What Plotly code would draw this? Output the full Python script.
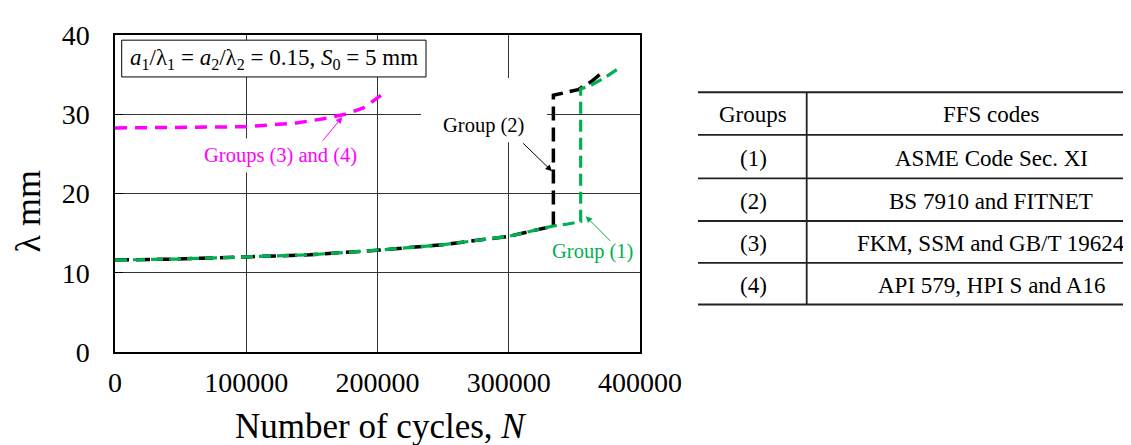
import plotly.graph_objects as go

# ---------------- data ----------------
n_group1 = [0, 47000, 100000, 148600, 200000, 250100, 300000, 326300, 334000, 345000, 354800,
            354800, 363000, 373000, 384800]
lam_group1 = [11.6, 11.73, 12.0, 12.27, 12.84, 13.54, 14.6, 15.55, 15.9, 16.15, 16.45,
              33.2, 33.7, 34.6, 35.9]

n_group2 = [0, 47000, 100000, 148600, 200000, 250100, 300000, 326300, 334000,
            334000, 352800, 362700, 371500]
lam_group2 = [11.6, 11.73, 12.0, 12.27, 12.84, 13.54, 14.6, 15.55, 15.9,
              32.4, 33.1, 34.1, 35.3]

n_group34 = [0, 59700, 100000, 138400, 161300, 175200, 189200, 203200]
lam_group34 = [28.27, 28.3, 28.43, 28.9, 29.5, 30.0, 30.8, 32.45]

x_ticks = [0, 100000, 200000, 300000, 400000]
y_ticks = [0, 10, 20, 30, 40]

table_header = ["Groups", "FFS codes"]
table_groups = ["(1)", "(2)", "(3)", "(4)"]
table_codes = ["ASME Code Sec. XI", "BS 7910 and FITNET", "FKM, SSM and GB/T 19624",
               "API 579, HPI S and A16"]

# ---------------- figure ----------------
OFF = 8                      # default page body margin
W, H = 1131 - OFF, 445 - OFF
L, R, T, B = 115, 640, 27, 352  # plot area in page pixels
FONT = "'Liberation Serif', 'Times New Roman', Times, 'DejaVu Serif', serif"
BLACK = "#000000"
GREEN = "#00B050"
MAGENTA = "#FF00FF"

fig = go.Figure()

fig.add_trace(go.Scatter(x=n_group2, y=lam_group2, mode="lines",
                         line=dict(color=BLACK, width=3.5, dash="14px,7px"),
                         name="Group (2)"))
fig.add_trace(go.Scatter(x=n_group1, y=lam_group1, mode="lines",
                         line=dict(color=GREEN, width=3.2, dash="12px,6px"),
                         name="Group (1)"))
fig.add_trace(go.Scatter(x=n_group34, y=lam_group34, mode="lines",
                         line=dict(color=MAGENTA, width=3.5, dash="12px,8px"),
                         name="Groups (3) and (4)"))


def px2x(px):
    return (px - L) / (R - L) * 400000


def px2y(py):
    return (B - py) / (B - T) * 40


def px2px(px):
    return (px - L) / (R - L)


def py2py(py):
    return (B - py) / (B - T)


shapes = []
annotations = []


def txt(x, y, text, size, color, xref="x", yref="y", **kw):
    d = dict(x=x, y=y, xref=xref, yref=yref, showarrow=False, text=text,
             xanchor="center", yanchor="middle",
             font=dict(family=FONT, size=size, color=color))
    d.update(kw)
    annotations.append(d)


# white boxes hiding gridlines behind labels
shapes.append(dict(type="rect", xref="x", yref="y", layer="between",
                   x0=px2x(421), x1=px2x(547), y0=px2y(137), y1=px2y(71),
                   fillcolor="white", line=dict(width=0)))
shapes.append(dict(type="rect", xref="x", yref="y", layer="between",
                   x0=px2x(198), x1=px2x(362), y0=px2y(168), y1=px2y(133),
                   fillcolor="white", line=dict(width=0)))
# parameter box
shapes.append(dict(type="rect", xref="x", yref="y", layer="between",
                   x0=px2x(121.7), x1=px2x(426), y0=px2y(70), y1=px2y(32.3),
                   fillcolor="white", line=dict(color=BLACK, width=1)))
txt(px2x(274), px2y(51.5),
    "<i>a</i><sub>1</sub>/λ<sub>1</sub> = <i>a</i><sub>2</sub>/λ<sub>2</sub>"
    " = 0.15, <i>S</i><sub>0</sub> = 5 mm", 23, BLACK)

# curve labels
txt(px2x(280), px2y(151), "Groups (3) and (4)", 20.5, MAGENTA)
txt(px2x(483), px2y(120), "Group (2)", 20.5, BLACK)
txt(px2x(592), px2y(249), "Group (1)", 20.5, GREEN)

# arrows
for head, tail, col in [((342.3, 111), (321.7, 136), MAGENTA),
                        ((552, 166.7), (521.7, 137.3), BLACK),
                        ((585.7, 212.7), (611.7, 239), GREEN)]:
    annotations.append(dict(x=px2x(head[0]), y=px2y(head[1]), xref="x", yref="y",
                            ax=tail[0] - head[0], ay=tail[1] - head[1], text="",
                            showarrow=True, arrowhead=2, arrowsize=1.3, arrowwidth=1,
                            arrowcolor=col, standoff=0))

# axis titles
txt(px2px(380), py2py(428), "Number of cycles, <i>N</i>", 35, BLACK, xref="paper", yref="paper")
txt(px2px(28), py2py(208), "λ mm", 36, BLACK, xref="paper", yref="paper", textangle=-90)

# table
tab_left, tab_right, tab_div = 698, 1131, 806.7
row_lines = [85.7, 129.3, 174, 217.7, 260.7, 303.3]
for yl in row_lines:
    shapes.append(dict(type="line", xref="paper", yref="paper",
                       x0=px2px(tab_left), x1=px2px(tab_right), y0=py2py(yl), y1=py2py(yl),
                       line=dict(color="#222222", width=1.8)))
shapes.append(dict(type="line", xref="paper", yref="paper",
                   x0=px2px(tab_div), x1=px2px(tab_div), y0=py2py(row_lines[0]), y1=py2py(row_lines[-1]),
                   line=dict(color="#222222", width=1.8)))

col1_c, col2_c = 753, 991
rows = [table_header] + [[g, c] for g, c in zip(table_groups, table_codes)]
for i, (g, c) in enumerate(rows):
    yc = (row_lines[i] + row_lines[i + 1]) / 2 + 1.5
    txt(px2px(col1_c), py2py(yc), g, 23, BLACK, xref="paper", yref="paper")
    txt(px2px(col2_c), py2py(yc), c, 23, BLACK, xref="paper", yref="paper")

fig.update_layout(
    width=W, height=H,
    margin=dict(l=L - OFF, r=W + OFF - R, t=T - OFF, b=H + OFF - B, pad=0),
    paper_bgcolor="white", plot_bgcolor="white",
    showlegend=False,
    font=dict(family=FONT, color=BLACK),
    shapes=shapes, annotations=annotations,
)
fig.update_xaxes(range=[0, 400000], tickvals=x_ticks, ticktext=[str(v) for v in x_ticks],
                 showgrid=True, gridcolor="#333333", gridwidth=1,
                 showline=True, linecolor=BLACK, linewidth=1.5, mirror=True,
                 ticks="", zeroline=False, ticklabelstandoff=5,
                 tickfont=dict(family=FONT, size=28, color=BLACK))
fig.update_yaxes(range=[0, 40], tickvals=y_ticks,
                 showgrid=True, gridcolor="#333333", gridwidth=1,
                 showline=True, linecolor=BLACK, linewidth=1.5, mirror=True,
                 ticks="inside", ticklen=8, tickcolor=BLACK, zeroline=False,
                 ticklabelstandoff=18,
                 tickfont=dict(family=FONT, size=28, color=BLACK))

fig.write_html("out.html")
